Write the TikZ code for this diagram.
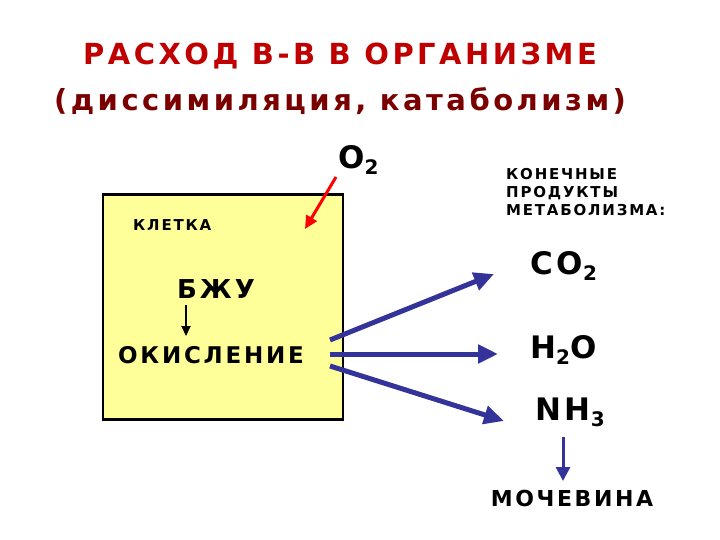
\documentclass[tikz,border=0pt]{standalone}
\usepackage{fontspec}
\setmainfont[LetterSpace=12]{DejaVu Sans}
\usetikzlibrary{arrows.meta}
\definecolor{ttl}{HTML}{C00000}
\definecolor{ttl2}{HTML}{7A0000}
\definecolor{bl}{HTML}{333399}
\definecolor{yel}{HTML}{FFFF99}
\newcommand{\fs}[1]{\bfseries\fontsize{#1}{#1}\selectfont}
\newcommand{\lowsub}[1]{\raisebox{-0.35ex}{\fontsize{20}{20}\selectfont #1}}
\tikzset{
 txt/.style={inner sep=0pt},
 barrow/.style={draw=bl, line width=5pt, -{Triangle[length=20pt,width=18pt]}},
}
\begin{document}
\begin{tikzpicture}[x=1pt,y=-1pt]
\useasboundingbox (0,0) rectangle (720,540);
\node[txt, text=ttl, font=\fs{29}] (t1) at (340,56) {РАСХОД В-В В ОРГАНИЗМЕ};
\node[txt, text=ttl2, font=\fs{29}] (t2) at (340,101) {(диссимиляция, катаболизм)};
\node[draw=black, line width=2.5pt, fill=yel, minimum width=240pt, minimum height=225pt, inner sep=0pt] (box) at (223,307) {};
\node[txt, font=\fs{15}, anchor=west] (kl) at (133,225) {КЛЕТКА};
\node[txt, font=\fs{26}] (bzu) at (216,289) {БЖУ};
\node[txt, font=\fs{23}] (ok) at (211,355) {ОКИСЛЕНИЕ};
\draw[line width=2pt, -{Triangle[length=10pt,width=9pt]}] (186,305) -- (186,336);
\node[txt, font=\fs{31}, anchor=west] (o2) at (338,160) {O\lowsub{2}};
\coordinate (o2s) at (336,177);
\coordinate (o2e) at (305,229);
\draw[draw=red, line width=3pt, -{Triangle[length=13pt,width=12pt]}] (o2s) -- (o2e);
\node[txt, font=\fs{15}, anchor=west, align=left] (kp) at (506,192) {КОНЕЧНЫЕ\\[3pt]ПРОДУКТЫ\\[3pt]МЕТАБОЛИЗМА:};
\node[txt, font=\fs{31}, anchor=west] (co2) at (530,266) {CO\lowsub{2}};
\node[txt, font=\fs{31}, anchor=west] (h2o) at (530,350) {H\lowsub{2}O};
\node[txt, font=\fs{31}, anchor=west] (nh3) at (535,412) {NH\lowsub{3}};
\node[txt, font=\fs{22}] (moch) at (572,498) {МОЧЕВИНА};
\coordinate (a1) at (330,340); \coordinate (b1) at (494,274);
\coordinate (a2) at (330,354); \coordinate (b2) at (498,354);
\coordinate (a3) at (330,366); \coordinate (b3) at (504,421);
\draw[barrow] (a1) -- (b1);
\draw[barrow] (a2) -- (b2);
\draw[barrow] (a3) -- (b3);
\draw[draw=bl, line width=3pt, -{Triangle[length=14pt,width=14pt]}] (563,437) -- (563,481);
\end{tikzpicture}
\end{document}
